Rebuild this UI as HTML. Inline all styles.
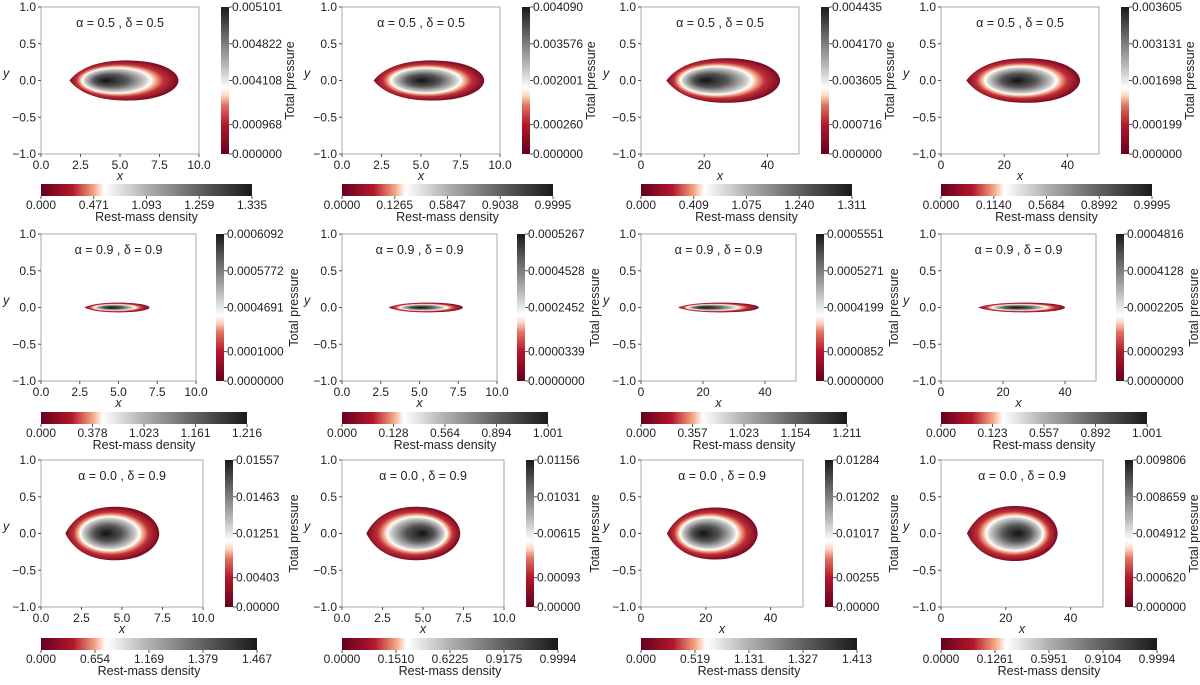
<!DOCTYPE html>
<html><head><meta charset="utf-8"><style>
body{margin:0;background:#fff}
svg{font-family:"Liberation Sans","DejaVu Sans",sans-serif}
</style></head><body>
<svg id="fig" width="1200" height="680" xmlns="http://www.w3.org/2000/svg">
<defs>
<linearGradient id="vg" x1="0" y1="1" x2="0" y2="0">
<stop offset="0" stop-color="#67001f"/><stop offset="0.2" stop-color="#b2182b"/><stop offset="0.33" stop-color="#e0735f"/><stop offset="0.4" stop-color="#fddbc7"/><stop offset="0.45" stop-color="#ffffff"/><stop offset="0.6" stop-color="#bababa"/><stop offset="0.8" stop-color="#6a6a6a"/><stop offset="1" stop-color="#1a1a1a"/></linearGradient>
<linearGradient id="hg" x1="0" y1="0" x2="1" y2="0">
<stop offset="0" stop-color="#67001f"/><stop offset="0.15" stop-color="#b2182b"/><stop offset="0.25" stop-color="#f4a582"/><stop offset="0.3" stop-color="#ffffff"/><stop offset="0.5" stop-color="#b0b0b0"/><stop offset="0.75" stop-color="#606060"/><stop offset="1" stop-color="#1a1a1a"/></linearGradient>
</defs>
</svg>
<script>
const titles=["α = 0.5 , δ = 0.5","α = 0.9 , δ = 0.9","α = 0.0 , δ = 0.9"];
const xMaxes=[10,10,50,50];
const pTicks=[
[["0.005101","0.004822","0.004108","0.000968","0.000000"],["0.004090","0.003576","0.002001","0.000260","0.000000"],["0.004435","0.004170","0.003605","0.000716","0.000000"],["0.003605","0.003131","0.001698","0.000199","0.000000"]],
[["0.0006092","0.0005772","0.0004691","0.0001000","0.0000000"],["0.0005267","0.0004528","0.0002452","0.0000339","0.0000000"],["0.0005551","0.0005271","0.0004199","0.0000852","0.0000000"],["0.0004816","0.0004128","0.0002205","0.0000293","0.0000000"]],
[["0.01557","0.01463","0.01251","0.00403","0.00000"],["0.01156","0.01031","0.00615","0.00093","0.00000"],["0.01284","0.01202","0.01017","0.00255","0.00000"],["0.009806","0.008659","0.004912","0.000620","0.000000"]]];
const dTicks=[
[["0.000","0.471","1.093","1.259","1.335"],["0.0000","0.1265","0.5847","0.9038","0.9995"],["0.000","0.409","1.075","1.240","1.311"],["0.0000","0.1140","0.5684","0.8992","0.9995"]],
[["0.000","0.378","1.023","1.161","1.216"],["0.000","0.128","0.564","0.894","1.001"],["0.000","0.357","1.023","1.154","1.211"],["0.000","0.123","0.557","0.892","1.001"]],
[["0.000","0.654","1.169","1.379","1.467"],["0.0000","0.1510","0.6225","0.9175","0.9994"],["0.000","0.519","1.131","1.327","1.413"],["0.0000","0.1261","0.5951","0.9104","0.9994"]]];
// shape: [xLeft, xRight, halfHeight, coreX]
const shapes=[
[[1.8,8.7,0.27,4.0],[2.0,9.0,0.27,5.0],[8,44,0.3,20],[8,44,0.3,24]],
[[2.8,7.0,0.065,4.5],[3.0,7.8,0.065,5.0],[12,38,0.065,20],[12,40,0.065,24]],
[[1.5,7.3,0.36,4.0],[1.5,7.3,0.36,5.0],[8,36,0.35,19],[8,36,0.37,24]]];
const svg=document.getElementById('fig');const NS="http://www.w3.org/2000/svg";
function mk(t,a,p,txt){const e=document.createElementNS(NS,t);for(const k in a)e.setAttribute(k,a[k]);if(txt!==undefined)e.textContent=txt;(p||svg).appendChild(e);return e;}
const rows=[{T:7,H:147,W:158,cb:180,hy:184,hw:211},{T:234,H:147,W:155,cb:175,hy:412,hw:206},{T:460,H:147,W:162,cb:184,hy:638,hw:216}];
const colL=[41,342,641,941];
let gid=0;
rows.forEach((R,r)=>{colL.forEach((L,c)=>{
 const xm=xMaxes[c];const sx=v=>L+v/xm*R.W;const sy=v=>R.T+(1-v)/2*R.H;
 const g=mk('g',{});
 const s=shapes[r][c];const x0=sx(s[0]),x1=sx(s[1]),yc=sy(0),hh=s[2]/2*R.H*0.76;const w=x1-x0;
 gid++;const rg=mk('radialGradient',{id:'rg'+gid,cx:0.5,cy:0.5,r:0.5,fx:(s[3]-s[0])/(s[1]-s[0]),fy:0.5},svg.querySelector('defs'));
 [[0,'#111'],[0.3,'#555'],[0.55,'#c8c8c8'],[0.63,'#fff'],[0.7,'#f4a582'],[0.8,'#c0303a'],[1,'#7a0a20']].forEach(a=>mk('stop',{offset:a[0],'stop-color':a[1]},rg));
 const path=mk('path',{d:`M${x0},${yc} C${x0+w*0.12},${yc-hh*1.1} ${x0+w*0.35},${yc-hh*1.35} ${x0+w*0.55},${yc-hh*1.33} C${x0+w*0.85},${yc-hh*1.3} ${x1},${yc-hh*0.6} ${x1},${yc} C${x1},${yc+hh*0.6} ${x0+w*0.85},${yc+hh*1.3} ${x0+w*0.55},${yc+hh*1.33} C${x0+w*0.35},${yc+hh*1.35} ${x0+w*0.12},${yc+hh*1.1} ${x0},${yc} Z`,fill:'url(#rg'+gid+')'},g);
 
 const fr=mk('rect',{x:L,y:R.T,width:R.W,height:R.H,fill:'none',stroke:'#aaa','stroke-width':1},g);
 
 const tt=mk('text',{x:L+R.W/2,y:R.T+20,'text-anchor':'middle','font-size':12.5,fill:'#222'},g,titles[r]);
 
 [1,0.5,0,-0.5,-1].forEach(v=>{mk('line',{x1:L-3,x2:L,y1:sy(v),y2:sy(v),stroke:'#555'},g);mk('text',{x:L-5,y:sy(v)+4,'text-anchor':'end','font-size':12,fill:'#222'},g,(v<0?'−':'')+Math.abs(v).toFixed(1));});
 const xt=xm==10?[0,2.5,5,7.5,10]:[0,20,40];
 xt.forEach(v=>{mk('line',{x1:sx(v),x2:sx(v),y1:R.T+R.H,y2:R.T+R.H+3,stroke:'#555'},g);mk('text',{x:sx(v),y:R.T+R.H+15,'text-anchor':'middle','font-size':12,fill:'#222'},g,xm==10?v.toFixed(1):String(v));});
 const xl=mk('text',{x:L+R.W/2,y:R.T+R.H+26,'text-anchor':'middle','font-size':12.5,'font-style':'italic',fill:'#222'},g,'x');
 
 const yl=mk('text',{x:L-38,y:R.T+R.H/2-3,'font-size':12.5,'font-style':'italic',fill:'#222'},g,'y');
 
 const cbx=L+R.cb;const vb=mk('rect',{x:cbx,y:R.T,width:8,height:R.H,fill:'url(#vg)'},g);
 
 const pt=pTicks[r][c];const pf=[1,0.75,0.5,0.2,0];
 pt.forEach((t,i)=>{const y=R.T+(1-pf[i])*R.H;mk('line',{x1:cbx+8,x2:cbx+11,y1:y,y2:y,stroke:'#555'},g);mk('text',{x:cbx+11,y:y+4,'font-size':12,fill:'#222'},g,t);});
 const pl=mk('text',{transform:`translate(${cbx+(pt[0].length>8?82:73)},${R.T+R.H/2}) rotate(-90)`,'text-anchor':'middle','font-size':12.5,fill:'#222'},g,'Total pressure');
 
 const hb=mk('rect',{x:L,y:R.hy,width:R.hw,height:12,fill:'url(#hg)'},g);
 
 const df=[0,0.25,0.5,0.75,1];
 dTicks[r][c].forEach((t,i)=>{const x=L+df[i]*R.hw;mk('line',{x1:x,x2:x,y1:R.hy+12,y2:R.hy+15,stroke:'#555'},g);mk('text',{x:x,y:R.hy+25,'text-anchor':'middle','font-size':12,fill:'#222'},g,t);});
 const dl=mk('text',{x:L+R.hw/2,y:R.hy+37,'text-anchor':'middle','font-size':12.5,fill:'#222'},g,'Rest-mass density');
 
});});
</script>
</body></html>
